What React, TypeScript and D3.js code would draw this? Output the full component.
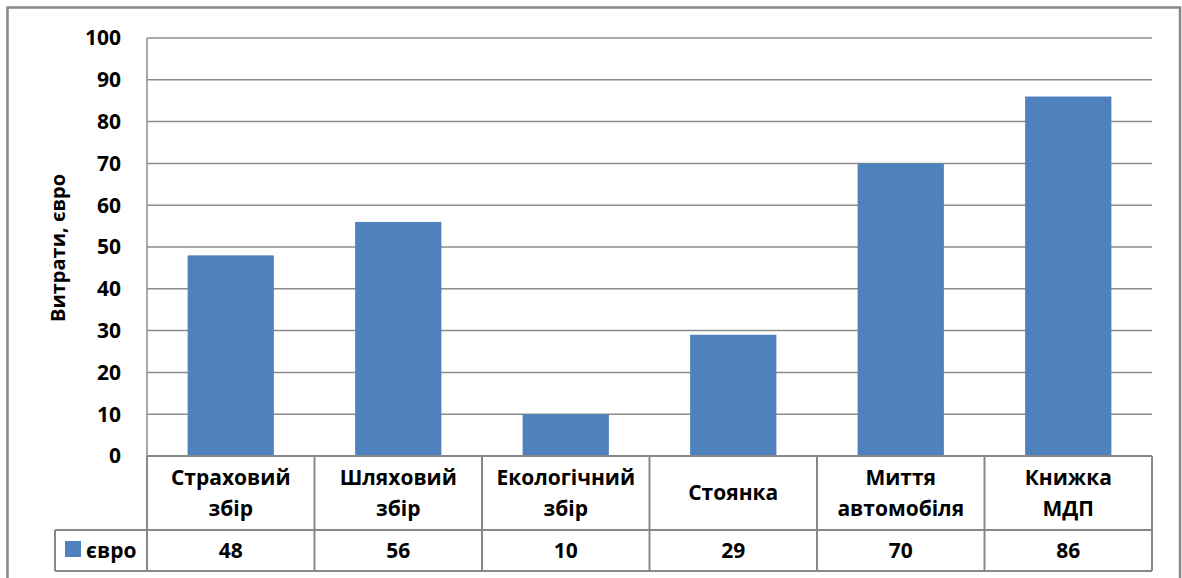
import React from "react";
import * as d3 from "d3";

const categories: string[][] = [
  ["Страховий", "збір"],
  ["Шляховий", "збір"],
  ["Екологічний", "збір"],
  ["Стоянка"],
  ["Миття", "автомобіля"],
  ["Книжка", "МДП"],
];
const values: number[] = [48, 56, 10, 29, 70, 86];
const yTicks: number[] = [0, 10, 20, 30, 40, 50, 60, 70, 80, 90, 100];
const seriesName = "євро";
const yLabel = "Витрати, євро";

const W = 1182;
const H = 578;
const left = 147;
const right = 1152;
const top = 38;
const bottom = 456;
const catRowBottom = 530;
const valRowBottom = 571;
const legendLeft = 55;
const FONT = "'Open Sans', 'Liberation Sans', sans-serif";
const BLUE = "#4F81BD";
const GRID = "#8c8c8c";

export default function App() {
  const x = d3
    .scaleBand<number>()
    .domain(d3.range(values.length))
    .range([left, right])
    .paddingInner(0)
    .paddingOuter(0);
  const y = d3.scaleLinear().domain([0, 100]).range([bottom, top]);
  const bw = x.bandwidth();
  const barW = bw * 0.515;

  return (
    <svg
      width={W}
      height={H}
      style={{ position: "absolute", left: 0, top: 0, background: "#fff" }}
      fontFamily={FONT}
    >
      <rect x={0} y={0} width={W} height={H} fill="#fff" />
      {/* outer border */}
      <path
        d={`M7.5,${H + 5} V7.5 H1180 V${H + 5}`}
        fill="none"
        stroke="#888"
        strokeWidth={2.5}
      />
      {/* gridlines */}
      {yTicks.map((t) => (
        <line
          key={"g" + t}
          x1={left}
          x2={right}
          y1={y(t)}
          y2={y(t)}
          stroke={GRID}
          strokeWidth={1.5}
        />
      ))}
      {/* y axis line */}
      <line x1={left} x2={left} y1={top} y2={bottom} stroke={GRID} strokeWidth={1.5} />
      {/* bars */}
      {values.map((v, i) => (
        <rect
          key={"b" + i}
          x={(x(i) as number) + (bw - barW) / 2}
          y={y(v)}
          width={barW}
          height={y(0) - y(v)}
          fill={BLUE}
        />
      ))}
      {/* y tick labels */}
      {yTicks.map((t) => (
        <text
          key={"t" + t}
          x={121}
          y={y(t)}
          dy="0.35em"
          textAnchor="end"
          fontSize={21}
          fontWeight="bold"
          fill="#000"
        >
          {t}
        </text>
      ))}
      {/* y label */}
      <text
        transform={`translate(65,${(top + bottom) / 2 + 1}) rotate(-90)`}
        textAnchor="middle"
        fontSize={20}
        fontWeight="bold"
        fill="#000"
      >
        {yLabel}
      </text>
      {/* table lines */}
      <g stroke="#888" strokeWidth={2} fill="none">
        <line x1={left} x2={right} y1={bottom} y2={bottom} />
        <line x1={legendLeft} x2={right} y1={catRowBottom} y2={catRowBottom} />
        <line x1={legendLeft} x2={right} y1={valRowBottom} y2={valRowBottom} />
        <line x1={legendLeft} x2={legendLeft} y1={catRowBottom} y2={valRowBottom} />
        {d3.range(values.length + 1).map((i) => {
          const xx = i < values.length ? (x(i) as number) : right;
          return <line key={"v" + i} x1={xx} x2={xx} y1={bottom} y2={valRowBottom} />;
        })}
      </g>
      {/* category labels */}
      {categories.map((lines, i) => {
        const cx = (x(i) as number) + bw / 2;
        const lh = 31;
        const mid = (bottom + catRowBottom) / 2;
        const start = mid - ((lines.length - 1) * lh) / 2;
        return (
          <text
            key={"c" + i}
            x={cx}
            textAnchor="middle"
            fontSize={21}
            fontWeight="bold"
            fill="#000"
          >
            {lines.map((l, j) => (
              <tspan key={j} x={cx} y={start + j * lh} dy="0.35em">
                {l}
              </tspan>
            ))}
          </text>
        );
      })}
      {/* values row */}
      {values.map((v, i) => (
        <text
          key={"v" + i}
          x={(x(i) as number) + bw / 2}
          y={(catRowBottom + valRowBottom) / 2}
          dy="0.35em"
          textAnchor="middle"
          fontSize={21}
          fontWeight="bold"
          fill="#000"
        >
          {v}
        </text>
      ))}
      {/* legend */}
      <rect x={65} y={541} width={16} height={16} fill={BLUE} />
      <text
        x={86}
        y={(catRowBottom + valRowBottom) / 2}
        dy="0.35em"
        fontSize={21}
        fontWeight="bold"
        fill="#000"
      >
        {seriesName}
      </text>
    </svg>
  );
}
